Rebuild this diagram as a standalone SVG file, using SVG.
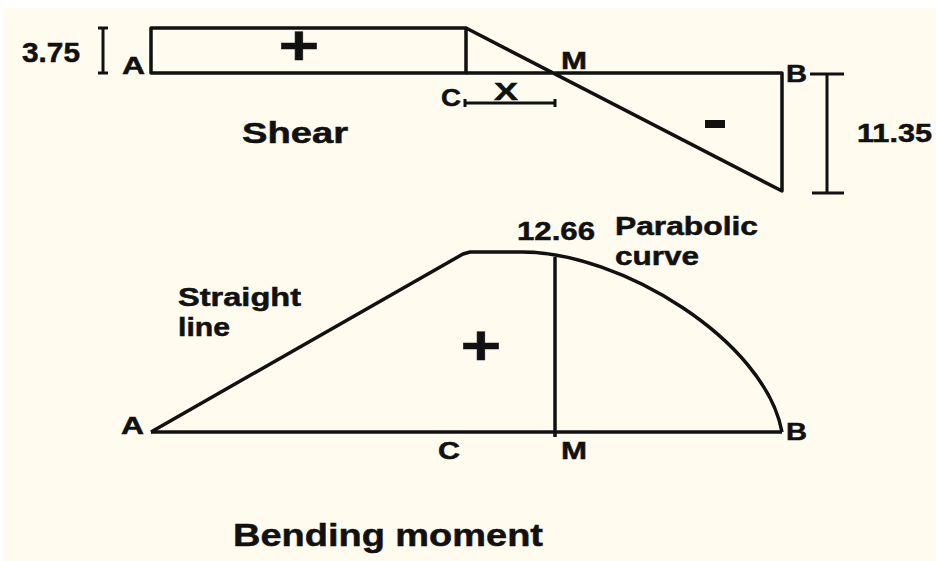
<svg xmlns="http://www.w3.org/2000/svg" width="936" height="561" viewBox="0 0 936 561">
<style>
.t{font-family:"Liberation Sans",Arial,sans-serif;font-weight:bold;fill:#111;stroke:#111;stroke-width:0.5;}
.ln{fill:none;stroke:#111;stroke-width:3.5;stroke-linejoin:round;}
.dim{fill:none;stroke:#111;stroke-width:3;}
</style>
<rect x="0" y="0" width="936" height="561" fill="#ffffff"/>
<rect x="3" y="8" width="933" height="553" fill="#fffbef"/>

<g id="shear">
  <rect class="ln" x="151" y="28" width="315" height="45"/>
  <path class="ln" d="M466,73 L782,73 L782,191 L466,28"/>
  <text class="t" x="0" y="0" font-size="56" text-anchor="middle" transform="translate(299,64) scale(1.25,1)">+</text>
  <rect x="705" y="120" width="20" height="8" fill="#111"/>
  <text class="t" x="242" y="143" font-size="29" textLength="106" lengthAdjust="spacingAndGlyphs">Shear</text>
  <text class="t" x="122" y="74" font-size="24" textLength="23" lengthAdjust="spacingAndGlyphs">A</text>
  <text class="t" x="441" y="106" font-size="24" textLength="20" lengthAdjust="spacingAndGlyphs">C</text>
  <text class="t" x="561" y="69" font-size="24" textLength="26" lengthAdjust="spacingAndGlyphs">M</text>
  <text class="t" x="786" y="82" font-size="24" textLength="21" lengthAdjust="spacingAndGlyphs">B</text>
</g>

<g id="dim-375">
  <path class="dim" d="M103,28 V73 M98,28 H108 M98,73 H108"/>
  <text class="t" x="22" y="62" font-size="27" textLength="58" lengthAdjust="spacingAndGlyphs">3.75</text>
</g>

<g id="dim-x">
  <path class="dim" d="M465,103 H555 M465,99 V107 M555,99 V107"/>
  <text class="t" x="494" y="100" font-size="24" textLength="24" lengthAdjust="spacingAndGlyphs">X</text>
</g>

<g id="dim-1135">
  <path class="dim" d="M827,74 V193 M810,74 H844 M812,193 H844"/>
  <text class="t" x="857" y="142" font-size="25" textLength="75" lengthAdjust="spacingAndGlyphs">11.35</text>
</g>

<g id="moment">
  <path class="ln" d="M151,432 L782,432"/>
  <path class="ln" d="M151,432 L463,254 L470,252 L522,252 C620,252 765,340 782,432"/>
  <path class="ln" d="M555,257 V437"/>
  <text class="t" x="0" y="0" font-size="56" text-anchor="middle" transform="translate(481,364) scale(1.25,1)">+</text>
  <text class="t" x="121" y="434" font-size="24" textLength="23" lengthAdjust="spacingAndGlyphs">A</text>
  <text class="t" x="438" y="459" font-size="24" textLength="22" lengthAdjust="spacingAndGlyphs">C</text>
  <text class="t" x="561" y="459" font-size="24" textLength="26" lengthAdjust="spacingAndGlyphs">M</text>
  <text class="t" x="786" y="440" font-size="24" textLength="21" lengthAdjust="spacingAndGlyphs">B</text>
  <text class="t" x="517" y="240" font-size="26" textLength="78" lengthAdjust="spacingAndGlyphs">12.66</text>
  <text class="t" x="615" y="235" font-size="25" textLength="143" lengthAdjust="spacingAndGlyphs">Parabolic</text>
  <text class="t" x="615" y="265" font-size="25" textLength="84" lengthAdjust="spacingAndGlyphs">curve</text>
  <text class="t" x="178" y="306" font-size="25" textLength="123" lengthAdjust="spacingAndGlyphs">Straight</text>
  <text class="t" x="178" y="336" font-size="25" textLength="52" lengthAdjust="spacingAndGlyphs">line</text>
  <text class="t" x="233" y="546" font-size="32" textLength="310" lengthAdjust="spacingAndGlyphs">Bending moment</text>
</g>
</svg>
